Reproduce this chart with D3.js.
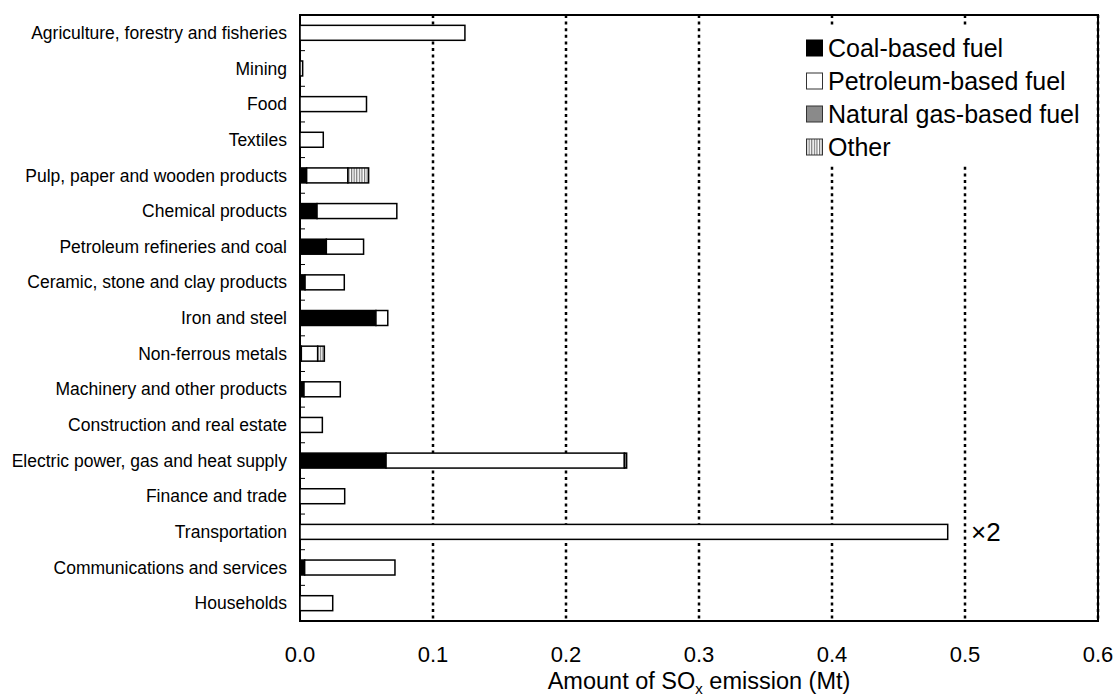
<!DOCTYPE html>
<html lang="en">
<head>
<meta charset="utf-8">
<title>SOx emission by sector</title>
<script src="https://cdn.jsdelivr.net/npm/d3@7"></script>
<style>
  body { margin: 0; background: #fff; }
  svg { font-family: "Liberation Sans", Arial, Helvetica, sans-serif; }
</style>
</head>
<body>
<svg width="1113" height="700"></svg>
<script>
// sectors, top to bottom
var sectors = [
  "Agriculture, forestry and fisheries", "Mining", "Food", "Textiles",
  "Pulp, paper and wooden products", "Chemical products",
  "Petroleum refineries and coal", "Ceramic, stone and clay products",
  "Iron and steel", "Non-ferrous metals", "Machinery and other products",
  "Construction and real estate", "Electric power, gas and heat supply",
  "Finance and trade", "Transportation", "Communications and services",
  "Households"
];

// Mt
var coal      = [0, 0, 0, 0, 0.005, 0.0128, 0.0198, 0.0038, 0.0571, 0.001, 0.003, 0, 0.0647, 0, 0, 0.0035, 0];
var petroleum = [0.124, 0.002, 0.050, 0.0175, 0.031, 0.060, 0.028, 0.0295, 0.0089, 0.0123, 0.0273, 0.0168, 0.1792, 0.0336, 0.487, 0.0679, 0.0246];
var gas       = [0, 0, 0, 0, 0, 0, 0, 0, 0, 0, 0, 0, 0.0017, 0, 0, 0, 0];
var other     = [0, 0, 0, 0, 0.0156, 0, 0, 0, 0, 0.005, 0, 0, 0, 0, 0, 0, 0];

var xTicks = [0, 0.1, 0.2, 0.3, 0.4, 0.5, 0.6];
var legendLabels = ["Coal-based fuel", "Petroleum-based fuel", "Natural gas-based fuel", "Other"];
var keys = ["coal", "petroleum", "gas", "other"];

var svg = d3.select("svg");
var plotL = 300, plotR = 1098, plotT = 15, plotB = 621;

var defs = svg.append("defs");
var pat = defs.append("pattern")
    .attr("id", "stripes")
    .attr("patternUnits", "userSpaceOnUse")
    .attr("width", 2.6).attr("height", 10);
pat.append("rect").attr("width", 2.6).attr("height", 10).attr("fill", "#fff");
pat.append("line").attr("x1", 0.6).attr("x2", 0.6).attr("y1", 0).attr("y2", 10)
    .attr("stroke", "#6d6d6d").attr("stroke-width", 1.1);

var fills = { coal: "#000", petroleum: "#fff", gas: "#8a8a8a", other: "url(#stripes)" };

var rows = sectors.map(function(s, i) {
  return { sector: s, coal: coal[i], petroleum: petroleum[i], gas: gas[i], other: other[i] };
});

var x = d3.scaleLinear().domain([0, 0.6]).range([plotL, plotR]);
var y = d3.scaleBand().domain(sectors).range([plotT, plotB])
    .paddingInner(0.58).paddingOuter(0.29);

// dotted grid
svg.append("g").selectAll("line")
    .data(xTicks.slice(1))
  .enter().append("line")
    .attr("x1", function(d) { return x(d); })
    .attr("x2", function(d) { return x(d); })
    .attr("y1", plotT).attr("y2", plotB)
    .attr("stroke", "#000")
    .attr("stroke-width", 2.5)
    .attr("stroke-dasharray", "3,3.6");

// frame
svg.append("rect")
    .attr("x", plotL).attr("y", plotT)
    .attr("width", plotR - plotL).attr("height", plotB - plotT)
    .attr("fill", "none").attr("stroke", "#000").attr("stroke-width", 2);

// inner ticks between sectors
var step = y.step();
svg.append("g").selectAll("line")
    .data(d3.range(1, sectors.length))
  .enter().append("line")
    .attr("x1", plotL).attr("x2", plotL + 5)
    .attr("y1", function(i) { return plotT + i * step; })
    .attr("y2", function(i) { return plotT + i * step; })
    .attr("stroke", "#000").attr("stroke-width", 1);

var series = d3.stack().keys(keys)(rows);

svg.append("g").selectAll("g")
    .data(series)
  .enter().append("g")
    .attr("fill", function(d) { return fills[d.key]; })
  .selectAll("rect")
    .data(function(d) { return d.filter(function(p) { return p[1] - p[0] > 0; }); })
  .enter().append("rect")
    .attr("x", function(d) { return x(d[0]); })
    .attr("y", function(d) { return y(d.data.sector); })
    .attr("width", function(d) { return x(d[1]) - x(d[0]); })
    .attr("height", y.bandwidth())
    .attr("stroke", "#000")
    .attr("stroke-width", 1.5);

// sector labels
svg.append("g").selectAll("text")
    .data(sectors)
  .enter().append("text")
    .attr("x", 287)
    .attr("y", function(d) { return y(d) + y.bandwidth() / 2; })
    .attr("dy", "0.35em")
    .attr("text-anchor", "end")
    .attr("font-size", 17.5)
    .text(function(d) { return d; });

// x tick labels
svg.append("g").selectAll("text")
    .data(xTicks)
  .enter().append("text")
    .attr("x", function(d) { return x(d); })
    .attr("y", 662)
    .attr("text-anchor", "middle")
    .attr("font-size", 22)
    .text(d3.format(".1f"));

// axis title
var title = svg.append("text")
    .attr("x", (plotL + plotR) / 2)
    .attr("y", 689)
    .attr("text-anchor", "middle")
    .attr("font-size", 23.5);
title.append("tspan").text("Amount of SO");
title.append("tspan").attr("font-size", 15).attr("dy", 5).text("x");
title.append("tspan").attr("dy", -5).text(" emission (Mt)");

// x2 note beside transportation
svg.append("text")
    .attr("x", 971)
    .attr("y", y("Transportation") + y.bandwidth() / 2)
    .attr("dy", "0.35em")
    .attr("font-size", 26)
    .text("\u00d72");

// legend
var legend = svg.append("g");
legend.append("rect")
    .attr("x", 795).attr("y", 26).attr("width", 300).attr("height", 138)
    .attr("fill", "#fff");
var item = legend.selectAll("g")
    .data(keys)
  .enter().append("g")
    .attr("transform", function(d, i) { return "translate(806," + (48 + i * 33) + ")"; });
item.append("rect")
    .attr("x", 0.5).attr("y", -8).attr("width", 16).attr("height", 16)
    .attr("fill", function(d) { return fills[d]; })
    .attr("stroke", function(d) { return d === "coal" ? "#000" : "#333"; })
    .attr("stroke-width", 1);
item.append("text")
    .attr("x", 22)
    .attr("dy", "0.36em")
    .attr("font-size", 25)
    .text(function(d, i) { return legendLabels[i]; });
</script>
</body>
</html>
